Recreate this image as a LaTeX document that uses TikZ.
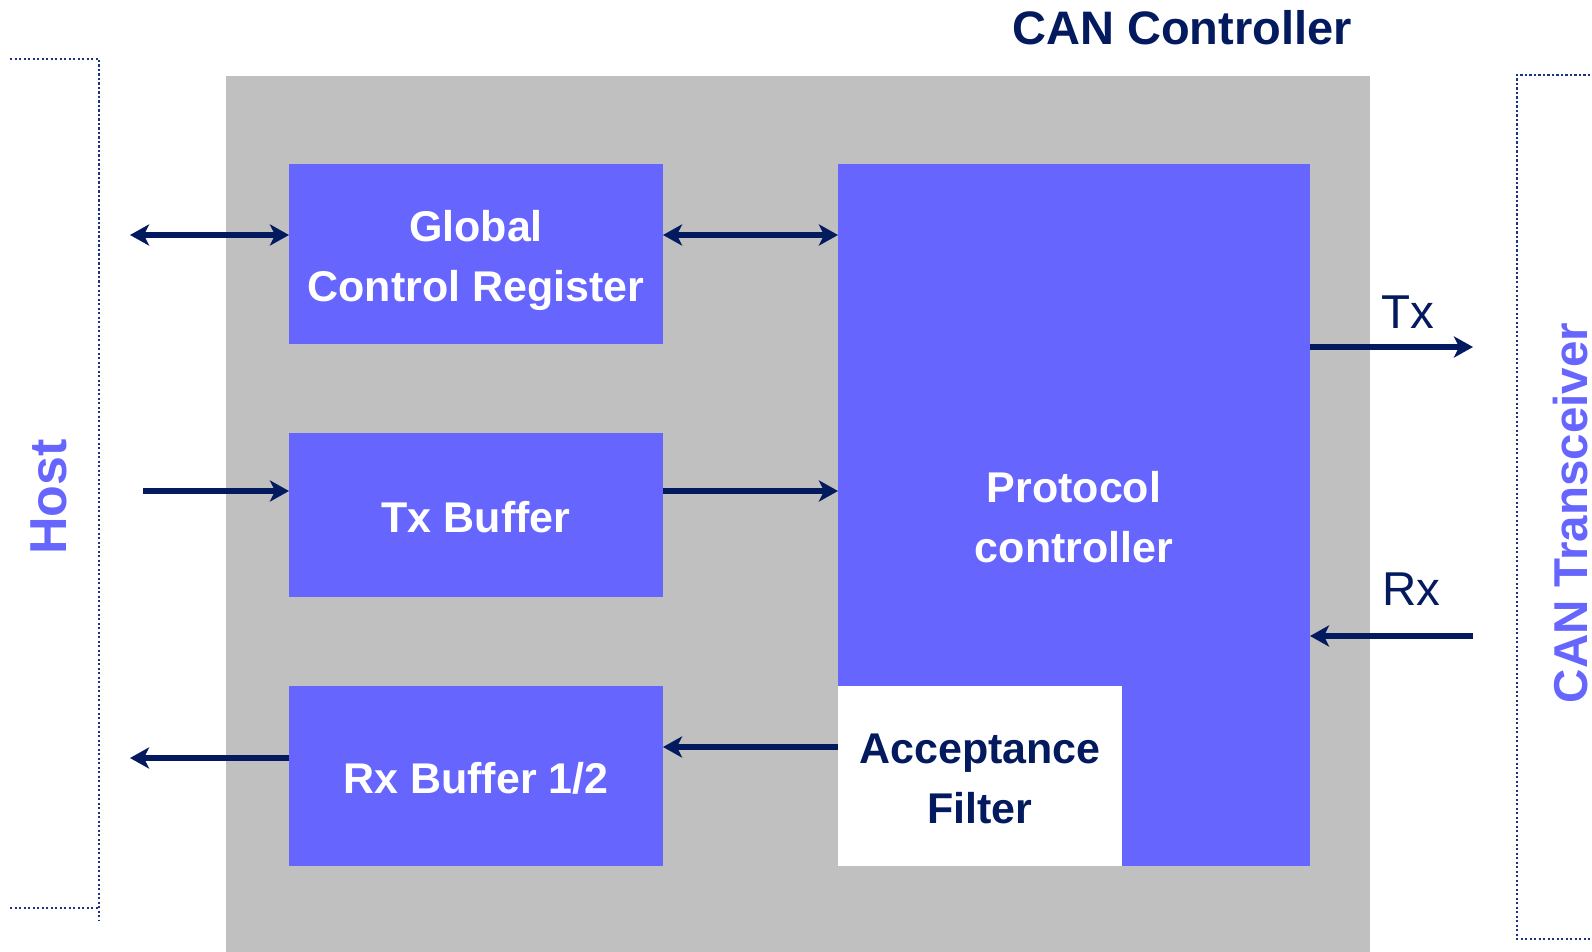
\documentclass[tikz,border=0pt]{standalone}
\usepackage{fontspec}
\setmainfont{Liberation Sans}
\usetikzlibrary{arrows.meta,calc}
\definecolor{navy}{RGB}{4,26,94}
\definecolor{blk}{RGB}{102,102,255}
\definecolor{shell}{RGB}{192,192,192}
\definecolor{dotc}{RGB}{30,50,130}

\begin{document}
\begin{tikzpicture}[x=1pt,y=-1pt,
  >={Stealth[length=19pt,width=21pt,inset=5pt]},
  block/.style={draw=none, fill=blk, inner sep=0pt, outer sep=0pt},
  wtxt/.style={anchor=base, inner sep=0pt, text=white, font=\bfseries\fontsize{43}{50}\selectfont},
  ntxt/.style={anchor=base, inner sep=0pt, text=navy, font=\bfseries\fontsize{43}{50}\selectfont},
  sig/.style={line width=5.5pt, draw=navy},
  side/.style={inner sep=0pt, rotate=90, text=blk},
  dotline/.style={draw=dotc, line width=2pt, dash pattern=on 2.2pt off 2.3pt},
  pinlbl/.style={anchor=base west, inner sep=0pt, text=navy, font=\fontsize{47.5}{50}\selectfont}
]
\useasboundingbox (0,0) rectangle (1592,952);

% controller housing
\fill[shell] (226,76) rectangle (1370,952);
\node[inner sep=0pt, text=navy, font=\bfseries\fontsize{47}{50}\selectfont] (title) at (1182,28) {CAN Controller};

% host and transceiver brackets
\draw[dotline] (10,59) -- (99,59) -- (99,920);
\draw[dotline] (10,908) -- (99,908);
\draw[dotline] (1590,75) -- (1517,75) -- (1517,939) -- (1590,939);
\node[side, font=\bfseries\fontsize{52}{55}\selectfont] (host) at (49,497) {Host};
\node[side, font=\bfseries\fontsize{47.5}{50}\selectfont] (xcvr) at (1570,513) {CAN Transceiver};

% functional blocks
\node[block, minimum width=374pt, minimum height=180pt] (gcr) at (476,254) {};
\node[block, minimum width=374pt, minimum height=164pt] (txb) at (476,515) {};
\node[block, minimum width=374pt, minimum height=180pt] (rxb) at (476,776) {};
\node[block, minimum width=472pt, minimum height=702pt] (pc) at (1074,515) {};
\node[fill=white, inner sep=0pt, outer sep=0pt, minimum width=284pt, minimum height=180pt] (af) at (980,776) {};

\node[wtxt] (gcrA) at ($(gcr.center)+(0,-13)$) {Global};
\node[wtxt] (gcrB) at ($(gcr.center)+(0,47)$) {Control Register};
\node[wtxt] (txbA) at ($(txb.center)+(0,17)$) {Tx Buffer};
\node[wtxt] (rxbA) at ($(rxb.center)+(0,17)$) {Rx Buffer 1/2};
\node[wtxt] (pcA) at ($(pc.center)+(0,-13)$) {Protocol};
\node[wtxt] (pcB) at ($(pc.center)+(0,47)$) {controller};
\node[ntxt] (afA) at ($(af.center)+(0,-13)$) {Acceptance};
\node[ntxt] (afB) at ($(af.center)+(0,47)$) {Filter};

% signal paths
\coordinate (hostio) at (130,235);
\coordinate (hostin) at (143,491);
\coordinate (rxlvl) at (0,747);
\coordinate (hostout) at (130,758);
\coordinate (txout) at (1473,347);
\coordinate (rxin) at (1473,636);

\draw[sig,<->] (hostio) -- (hostio -| gcr.west);
\draw[sig,<->] (gcr.east |- hostio) -- (pc.west |- hostio);
\draw[sig,->] (hostin) -- (hostin -| txb.west);
\draw[sig,->] (txb.east |- hostin) -- (pc.west |- hostin);
\draw[sig,->] (af.west |- rxlvl) -- (rxb.east |- rxlvl);
\draw[sig,->] (rxb.west |- hostout) -- (hostout);
\draw[sig,->] (pc.east |- txout) -- (txout);
\draw[sig,->] (rxin) -- (rxin -| pc.east);

\node[pinlbl] (txl) at (1381,328) {Tx};
\node[pinlbl] (rxl) at (1382,605) {Rx};
\end{tikzpicture}
\end{document}
